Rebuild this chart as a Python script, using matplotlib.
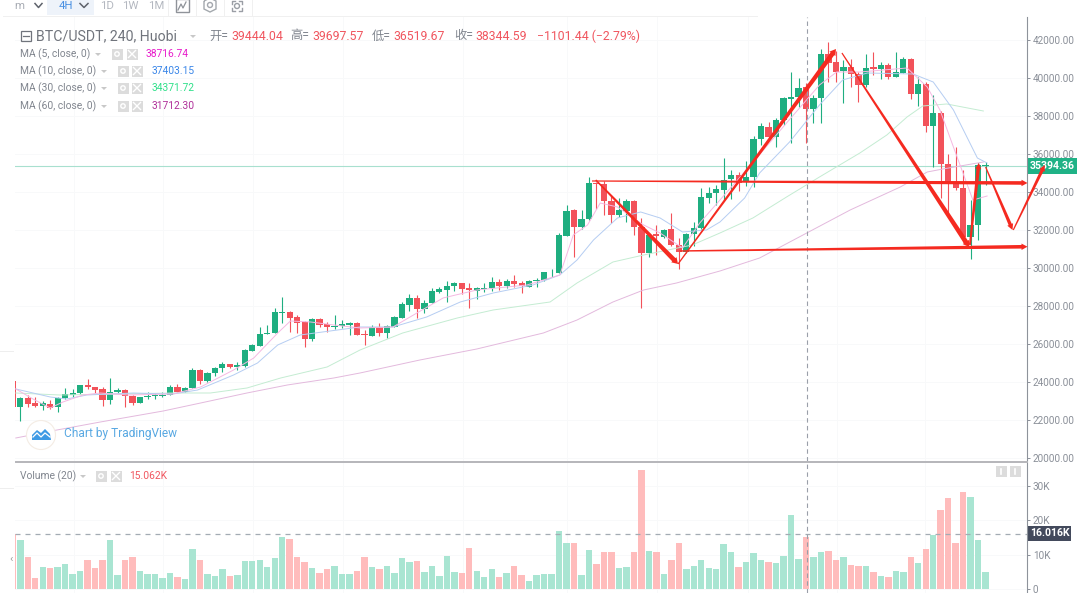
import numpy as np
import matplotlib
matplotlib.use("Agg")
import matplotlib.pyplot as plt
from matplotlib.patches import Rectangle, Circle, Polygon

plt.rcParams['font.family'] = ['Roboto', 'Noto Sans CJK SC', 'DejaVu Sans']

# candles, first one is cut off by the left edge of the chart
opens = [24070, 22685, 23176, 22895, 22737, 22878, 22685, 23158, 23351, 23421, 23860, 23755, 23632, 23071, 23474,
         23614, 23299, 22913, 23211, 23264, 23281, 23334, 23755, 23509, 23720, 24649, 24053, 24491, 24754, 24947,
         24790, 24860, 25667, 25930, 26543, 26578, 27666, 27701, 27421, 27157, 26280, 27333, 27070, 26894, 26947,
         27035, 27105, 26544, 26456, 26930, 26614, 26930, 27404, 28088, 28421, 27860, 28193, 28772, 28877, 29070,
         29210, 28965, 28825, 28930, 28965, 29298, 29088, 29351, 29246, 29035, 29316, 29386, 29737, 29772, 31719,
         33052, 32192, 32578, 34472, 34420, 33543, 32806, 33034, 33560, 32157, 30789, 31789, 31631, 32052, 31210,
         30877, 31806, 32122, 33718, 33946, 34123, 34684, 34912, 34614, 34824, 36789, 37455, 36894, 37806, 38929,
         39034, 39560, 38368, 38946, 41279, 40858, 40367, 40578, 40209, 39648, 40578, 40490, 40683, 40086, 40297,
         41016, 39174, 39683, 37473, 38192, 35473, 34438, 34246, 31632, 32264, 35403]
highs = [24070, 23246, 23334, 23246, 23018, 23071, 23211, 23684, 23632, 23860, 24158, 23772, 23772, 24211, 23684,
         23667, 23351, 23246, 23509, 23457, 23509, 23860, 23913, 23772, 24737, 24684, 24562, 24790, 25088, 24965,
         25088, 25737, 26000, 26929, 27017, 27894, 28508, 27754, 27543, 27245, 27403, 27403, 27192, 27543, 27280,
         27192, 27157, 26755, 27018, 27141, 27018, 27492, 28246, 28649, 28596, 28333, 28947, 29035, 29351, 29298,
         29246, 29210, 29000, 29210, 29526, 29421, 29421, 29666, 29351, 29386, 29474, 29824, 29947, 31841, 33332,
         33104, 33069, 34788, 34560, 34613, 33806, 33683, 33630, 33595, 32631, 31841, 32280, 32052, 32894, 31578,
         31876, 32420, 34209, 34297, 34385, 35789, 35175, 35088, 35666, 36964, 37631, 37718, 37894, 39034, 40350,
         39999, 39736, 39122, 41525, 41928, 41455, 40963, 40998, 40350, 41279, 41367, 40876, 40788, 41367, 41104,
         41051, 40086, 39823, 39122, 38280, 36017, 36403, 35175, 33597, 35561, 35614]
lows = [22685, 21983, 22720, 22685, 22544, 22580, 22439, 23106, 23246, 23386, 23632, 23421, 22772, 22860, 23421,
        22685, 22807, 22895, 23141, 23106, 23211, 23334, 23474, 23491, 23684, 23913, 24035, 24333, 24562, 24772,
        24649, 24790, 25649, 25912, 26526, 26578, 27105, 26666, 26578, 25877, 26175, 26929, 26631, 26789, 26842,
        26491, 26491, 25966, 26439, 26439, 26316, 26895, 27369, 27772, 27369, 27632, 28158, 28684, 28228, 28825,
        28649, 27895, 28369, 28772, 28825, 28860, 28947, 29035, 28684, 29000, 29035, 29351, 29526, 29737, 31701,
        30579, 32052, 32543, 33104, 32789, 32368, 32718, 32455, 31754, 27895, 30579, 30701, 31578, 31175, 29947,
        30824, 31175, 32087, 33420, 33332, 33597, 33632, 34088, 34333, 34298, 36491, 36789, 36368, 37543, 36613,
        38473, 36578, 37631, 37631, 39823, 39823, 38683, 39560, 38771, 39560, 40174, 39946, 39946, 40051, 40262,
        38911, 38543, 37192, 35316, 33684, 32720, 34123, 31404, 30474, 31492, 34386]
closes = [22685, 23176, 22860, 22737, 22895, 22667, 23176, 23404, 23439, 23860, 23755, 23614, 23088, 23491, 23597,
          23299, 22930, 23211, 23281, 23334, 23351, 23772, 23509, 23720, 24649, 24070, 24491, 24754, 24965, 24807,
          24895, 25702, 25965, 26543, 26614, 27701, 27701, 27403, 27140, 26298, 27333, 27035, 26894, 26982, 27052,
          27122, 26491, 26492, 26930, 26614, 26948, 27439, 28106, 28421, 27860, 28193, 28789, 28912, 29070, 29210,
          28912, 28842, 28947, 28965, 29298, 29088, 29351, 29193, 29088, 29333, 29368, 29807, 29772, 31736, 33034,
          32192, 32596, 34472, 34420, 33525, 32806, 33069, 33560, 32157, 30789, 31754, 31701, 32017, 31210, 30859,
          31824, 32122, 33736, 33981, 34157, 34649, 34930, 34509, 34824, 36806, 37490, 36894, 37824, 38946, 39034,
          39472, 38368, 38946, 41279, 40823, 40350, 40578, 40244, 39648, 40542, 40507, 40683, 40086, 40332, 41016,
          39174, 39683, 37473, 38157, 35473, 34438, 34246, 31632, 32264, 35438, 35456]
# thousands
volumes = [16.0, 14.3, 9.2, 3.3, 6.3, 6.1, 6.5, 7.3, 4.3, 5.3, 8.5, 6.1, 8.6, 14.3, 4.0, 8.5, 9.4, 5.3, 4.3, 4.3,
           3.2, 4.8, 3.6, 3.0, 11.8, 8.6, 4.5, 3.8, 5.9, 3.8, 4.1, 8.2, 8.2, 8.5, 6.5, 8.9, 15.3, 14.5, 9.2, 7.9,
           6.1, 4.8, 5.9, 6.6, 4.5, 4.5, 5.3, 9.2, 6.3, 5.9, 6.8, 4.8, 8.9, 7.8, 8.1, 5.1, 6.6, 3.8, 9.7, 5.1,
           4.8, 11.9, 5.3, 3.6, 5.9, 3.6, 4.6, 6.6, 4.0, 2.2, 4.0, 4.5, 4.3, 17.0, 13.3, 13.3, 4.0, 11.4, 7.3, 10.7,
           10.9, 6.1, 6.3, 10.9, 34.8, 11.2, 10.9, 4.3, 8.5, 13.5, 5.9, 6.8, 8.6, 6.1, 5.9, 13.0, 10.8, 6.5, 7.9, 10.6,
           8.4, 7.8, 7.6, 9.7, 21.6, 8.7, 15.3, 9.2, 10.8, 11.2, 8.4, 9.4, 7.0, 6.8, 6.8, 5.1, 3.8, 3.5, 5.3, 5.1,
           9.2, 7.6, 11.7, 15.8, 23.1, 26.5, 13.3, 28.3, 26.8, 14.2, 5.1]

# moving averages at the bends
ma5_idx = [-0.6, 1.7, 4, 5.7, 8.4, 10.7, 14.3, 20.4, 24.1, 28.5, 31.2, 34.4, 36.1, 38.8, 41.9, 45.4, 49.8, 53, 56.5,
           61, 67.7, 72.1, 73.9, 75.8, 77.5, 79.8, 83.3, 85.5, 88.5, 90.8, 93.5, 96.2, 98.4, 102.4, 106.8, 109.1,
           112.2, 118.5, 121.2, 122.9, 124.7, 127.3, 129.2]
ma5_val = [23648, 23121, 22648, 22964, 23332, 23437, 23332, 23385, 23753, 24648, 25279, 26595, 27227, 27174, 27016,
           26858, 26911, 27648, 28437, 28858, 29121, 29648, 31753, 32279, 33437, 33227, 32279, 31858, 31069, 32385,
           33595, 34805, 35805, 37648, 39648, 40332, 40332, 40542, 39542, 38332, 36384, 33595, 33805]
ma10_idx = [-0.6, 4, 6.2, 8.9, 15.1, 20.4, 23.7, 28.5, 31.7, 34.4, 37.4, 45.4, 49.8, 54.3, 58.8, 63.2, 68.5, 72.1,
            74.4, 76.6, 79.8, 82.9, 85.5, 88.5, 91.7, 93.5, 96.8, 98.8, 102.8, 106.8, 109.9, 113.2, 119.3, 122,
            124.7, 127.9, 129.2]
ma10_val = [23648, 23227, 23121, 23332, 23437, 23385, 23595, 24384, 25016, 25964, 26490, 26911, 26911, 27437, 28227,
            28700, 29121, 29648, 30437, 31490, 32648, 32964, 32648, 31911, 32016, 32437, 33700, 35016, 36648, 38595,
            39911, 40279, 40226, 39805, 38332, 35805, 35542]
ma30_idx = [-0.6, 5.3, 20.4, 25.4, 30.3, 34.8, 41, 45.4, 51.1, 58.4, 63.2, 70.8, 74.4, 79.2, 83.3, 89.8, 93.5, 97.9,
            102.4, 106.8, 112.2, 115.8, 118.5, 120.6, 123.8, 128.7]
ma30_val = [23437, 23332, 23437, 23437, 23701, 24227, 24806, 25700, 26595, 27385, 27806, 28227, 29227, 30332, 30700,
            31227, 31858, 32648, 33753, 34806, 36069, 37016, 37963, 38542, 38648, 38279]
ma60_idx = [-0.6, 4.9, 10.7, 19.1, 24.1, 30.3, 35.7, 41.9, 45.4, 53.4, 61, 69.9, 74.4, 79.2, 83.3, 87.7, 93.5, 98.8,
            105.1, 110.9, 117.6, 121.2, 123.3, 125.6, 128.7]
ma60_val = [21069, 21490, 21911, 22490, 22911, 23438, 23859, 24227, 24490, 25174, 25753, 26595, 27279, 28227, 28858,
            29227, 29858, 30543, 31858, 33069, 34279, 35069, 35227, 35384, 35595]

price_ticks = list(range(20000, 44000, 2000))
volume_ticks = [0, 10, 20, 30]
volume_tick_labels = ['0', '10K', '20K', '30K']
grid_idx = [7.2, 19.1, 31.1, 43.1, 59.2, 73, 85.1, 97.3, 109.2, 120.9]
last_price = 35394.36
volume_ma = 16.016
crosshair_idx = 105.13

# hand drawn red arrows: start index, start price, end index, end price
arrow_x0 = [76.4, 88.1, 76.9, 87.9, 109.8, 126.9, 129, 132.7]
arrow_y0 = [34595, 30911, 34648, 30227, 41332, 31227, 35332, 32016]
arrow_x1 = [134.6, 134.6, 87.9, 109, 126.8, 128.1, 132.6, 136.9]
arrow_y1 = [34490, 31137, 30227, 41542, 31121, 35542, 32016, 35437]
# widths in pixels at the start and at the head
arrow_w0 = [1.2, 1.4, 1.5, 1.2, 1.2, 2.0, 1.2, 1.2]
arrow_w1 = [3.6, 3.6, 4.6, 4.6, 4.8, 3.4, 3.4, 3.2]

GREEN = '#1fae80'
RED = '#f2525a'
VOL_GREEN = '#a9e5d2'
VOL_RED = '#ffbcbc'
AXIS_TEXT = '#8a8f98'
LEGEND_TEXT = '#80858e'
W, H = 1080, 593

fig = plt.figure(figsize=(W / 100, H / 100), dpi=100, facecolor='white')

# x pixel = 20.3 + 7.483 * index
left_px, right_px = 15.06, 1027
xlim = (-0.7, (right_px - 20.3) / 7.483)


def pane(top_px, bottom_px):
    a = fig.add_axes([left_px / W, 1 - bottom_px / H, (right_px - left_px) / W, (bottom_px - top_px) / H])
    a.set_xlim(*xlim)
    a.patch.set_visible(False)
    for s in a.spines.values():
        s.set_visible(False)
    a.set_xticks(grid_idx)
    a.tick_params(axis='x', length=0, labelbottom=False)
    a.grid(True, color='#f8f9fa', lw=0.7)
    a.set_axisbelow(True)
    a.yaxis.tick_right()
    a.tick_params(axis='y', length=2.5, width=0.7, color=AXIS_TEXT, labelcolor=AXIS_TEXT, labelsize=7.2, pad=1.8)
    a.set_zorder(3)
    return a


def red_arrow(a, x0, y0, x1, y1, w0, w1):
    # tapered stroke, narrow at the start, built in pixels so the width is right
    p0, p1 = a.transData.transform([(x0, y0), (x1, y1)])
    d = (p1 - p0) / np.hypot(*(p1 - p0))
    n = np.array([-d[1], d[0]])
    neck = p1 - d * 6
    pts = [p0 + n * w0 / 2, neck + n * w1 / 2, neck + n * (w1 / 2 + 1.4), p1,
           neck - n * (w1 / 2 + 1.4), neck - n * w1 / 2, p0 - n * w0 / 2]
    a.add_patch(Polygon(a.transData.inverted().transform(pts), color='#f52a20', lw=0, zorder=8, clip_on=False))


# price pane
ax = pane(17, 461)
ax.set_ylim(19858, 43226)
ax.set_yticks(price_ticks)
ax.set_yticklabels([f'{v:.2f}' for v in price_ticks])

idx = np.arange(len(opens)) - 1
opens = np.array(opens)
closes = np.array(closes)
colors = [GREEN if c >= o else RED for o, c in zip(opens, closes)]
ax.vlines(idx, lows, highs, colors=colors, lw=0.8, zorder=2)
ax.bar(idx, np.abs(closes - opens), bottom=np.minimum(opens, closes), width=0.84, color=colors, zorder=3)

ax.plot(ma60_idx, ma60_val, color='#e3b9dd', lw=0.7, zorder=4)
ax.plot(ma30_idx, ma30_val, color='#c4ecd2', lw=0.7, zorder=4)
ax.plot(ma10_idx, ma10_val, color='#b5cdf2', lw=0.7, zorder=4)
ax.plot(ma5_idx, ma5_val, color='#f5b8e2', lw=0.7, zorder=4)

ax.axhline(last_price, color='#a8e0cf', lw=0.8, zorder=1)
ax.axvline(crosshair_idx, color='#9a9fa9', lw=0.8, dashes=(4, 3), zorder=5)

for x0, y0, x1, y1, w0, w1 in zip(arrow_x0, arrow_y0, arrow_x1, arrow_y1, arrow_w0, arrow_w1):
    red_arrow(ax, x0, y0, x1, y1, w0, w1)

# volume pane
vax = pane(463, 593)
vax.set_ylim(-4 / 3.43, 126 / 3.43)
vax.set_yticks(volume_ticks)
vax.set_yticklabels(volume_tick_labels)
vol_colors = [VOL_GREEN if c >= o else VOL_RED for o, c in zip(opens, closes)]
vax.bar(idx, volumes, width=0.86, color=vol_colors, zorder=2)
vax.axhline(volume_ma, color='#a3abb3', lw=0.9, dashes=(4, 4), zorder=3)
vax.axvline(crosshair_idx, color='#9a9fa9', lw=0.8, dashes=(4, 3), zorder=5)


def overlay(z):
    a = fig.add_axes([0, 0, 1, 1])
    a.set_xlim(0, W)
    a.set_ylim(H, 0)
    a.axis('off')
    a.set_zorder(z)
    return a


# axis edge and tags go under the panes, the arrow crosses the price tag
under = overlay(1)
under.plot([1027, 1027], [17, 593], color='#8e939b', lw=0.8)
under.add_patch(Rectangle((1028, 158), 49, 15.5, color='#20b286', lw=0))
under.text(1052.5, 165.8, f'{last_price:.2f}', color='white', fontsize=7.6, ha='center', va='center', fontweight='bold')
under.add_patch(Rectangle((1028, 526), 43, 15, color='#434a5c', lw=0))
under.text(1049.5, 533.5, f'{volume_ma:.3f}K', color='white', fontsize=7.6, ha='center', va='center', fontweight='bold')

# everything else sits on top
ui = overlay(4)


def label(x, y, s, color=LEGEND_TEXT, size=7.4, ha='left'):
    ui.text(x, y, s, color=color, fontsize=size, ha=ha, va='center')


def small_icon(x, y):
    ui.add_patch(Rectangle((x - 5.5, y - 5.5), 11, 11, color='#dcdcdc', lw=0))
    ui.add_patch(Circle((x, y), 2.2, fill=False, ec='white', lw=1))


def close_icon(x, y):
    ui.add_patch(Rectangle((x - 5.5, y - 5.5), 11, 11, color='#dcdcdc', lw=0))
    ui.plot([x - 3.5, x + 3.5], [y - 3.5, y + 3.5], color='white', lw=1)
    ui.plot([x - 3.5, x + 3.5], [y + 3.5, y - 3.5], color='white', lw=1)


ui.plot([16, 1027], [461.5, 461.5], color='#b6b6ba', lw=1.4)

# toolbar
ui.add_patch(Rectangle((47, 0), 47, 15, color='#eef3fa', lw=0))
ui.plot([3, 1027 - 270], [15.5, 15.5], color='#f0f0f0', lw=0.7)
for x in [168, 196, 224, 252]:
    ui.plot([x, x], [0, 15], color='#f0f0f0', lw=0.7)
label(14, 6, 'm', color='#a8acb4', size=8.2)
ui.plot([35, 38.5, 42], [3.5, 7.5, 3.5], color='#5f636c', lw=1.1)
label(59, 6, '4H', color='#4a90e2', size=8.2)
ui.plot([80, 84, 88], [3.5, 7.5, 3.5], color='#5f636c', lw=1.1)
label(100, 6, '1D', color='#b4b8c0', size=8.2)
label(122, 6, '1W', color='#b4b8c0', size=8.2)
label(148, 6, '1M', color='#b4b8c0', size=8.2)
ui.add_patch(Rectangle((176, -1), 13, 13, fill=False, ec='#8f9399', lw=1))
ui.plot([178, 181, 183, 186], [10, 4, 8, 2], color='#8f9399', lw=0.9)
ui.add_patch(Polygon([(204, 1), (210, -2), (216, 1), (216, 9), (210, 12), (204, 9)], fill=False, ec='#a4a8ae', lw=1))
ui.add_patch(Circle((210, 5), 2.5, fill=False, ec='#a4a8ae', lw=1))
ui.add_patch(Circle((237, 6), 2.5, fill=False, ec='#9a9ea5', lw=1))
for x, dx in [(232, 1), (242, -1)]:
    ui.plot([x + 3 * dx, x, x], [1, 1, 4], color='#9a9ea5', lw=1)
    ui.plot([x + 3 * dx, x, x], [11, 11, 8], color='#9a9ea5', lw=1)

# title line
ui.add_patch(Rectangle((21, 31), 9.5, 9.5, fill=False, ec='#70747c', lw=0.9))
ui.plot([23, 28.5], [35.8, 35.8], color='#70747c', lw=0.9)
label(36, 36, 'BTC/USDT, 240, Huobi', color='#70747c', size=10.2)
ui.add_patch(Polygon([(190, 35), (196, 35), (193, 38)], color='#c8c8c8', lw=0))
for x, s in [(209, '开='), (290, '高='), (372, '低='), (454, '收=')]:
    label(x, 36, s, color='#80858e', size=8.8)
for x, s in [(231, '39444.04'), (312, '39697.57'), (393, '36519.67'), (475, '38344.59'), (537, '−1101.44 (−2.79%)')]:
    label(x, 36, s, color='#f0565f', size=8.8)

# indicator legend
legend_rows = [(54, 'MA (5, close, 0)', '38716.74', '#e81ccb', 98, 117, 132, 146),
               (71, 'MA (10, close, 0)', '37403.15', '#3a86e8', 104, 123, 137, 152),
               (88, 'MA (30, close, 0)', '34371.72', '#2fe08a', 104, 123, 137, 152),
               (106, 'MA (60, close, 0)', '31712.30', '#b0309a', 104, 123, 137, 152)]
for y, name, val, col, xa, xg, xc, xv in legend_rows:
    label(20, y, name)
    ui.add_patch(Polygon([(xa - 3, y - 1), (xa + 3, y - 1), (xa, y + 2)], color='#c8c8c8', lw=0))
    small_icon(xg, y)
    close_icon(xc, y)
    label(xv, y, val, color=col)

label(20, 476, 'Volume (20)')
ui.add_patch(Polygon([(80, 475), (86, 475), (83, 478)], color='#c8c8c8', lw=0))
small_icon(101, 476)
close_icon(116, 476)
label(129, 476, '15.062K', color='#f0565f')

# buttons in the volume pane corner
for x in [1001, 1015]:
    ui.add_patch(Rectangle((x - 5.5, 466), 11, 11, color='#dcdcdc', lw=0))
    ui.plot([x, x], [469, 474], color='white', lw=1.2)
label(11, 559, '‹', color='#9a9a9a', size=8, ha='center')
ui.plot([0, 13], [351, 351], color='#eeeeee', lw=0.7)
ui.plot([0, 13], [488, 488], color='#eeeeee', lw=0.7)

# watermark sits above the lines
ui.add_patch(Circle((41, 435), 14.5, fc='white', ec='#f4ece4', lw=0.8))
ui.add_patch(Polygon([(32, 440), (32, 435), (37, 430), (41, 433), (45, 429), (50, 434), (51, 440)], color='#3f9ae4', lw=0))
ui.plot([33, 37, 41, 45, 50], [437, 433, 437, 433, 437], color='white', lw=0.9)
label(64, 434, 'Chart by TradingView', color='#58a8e2', size=8.6)

fig.savefig('out.png', dpi=100)
